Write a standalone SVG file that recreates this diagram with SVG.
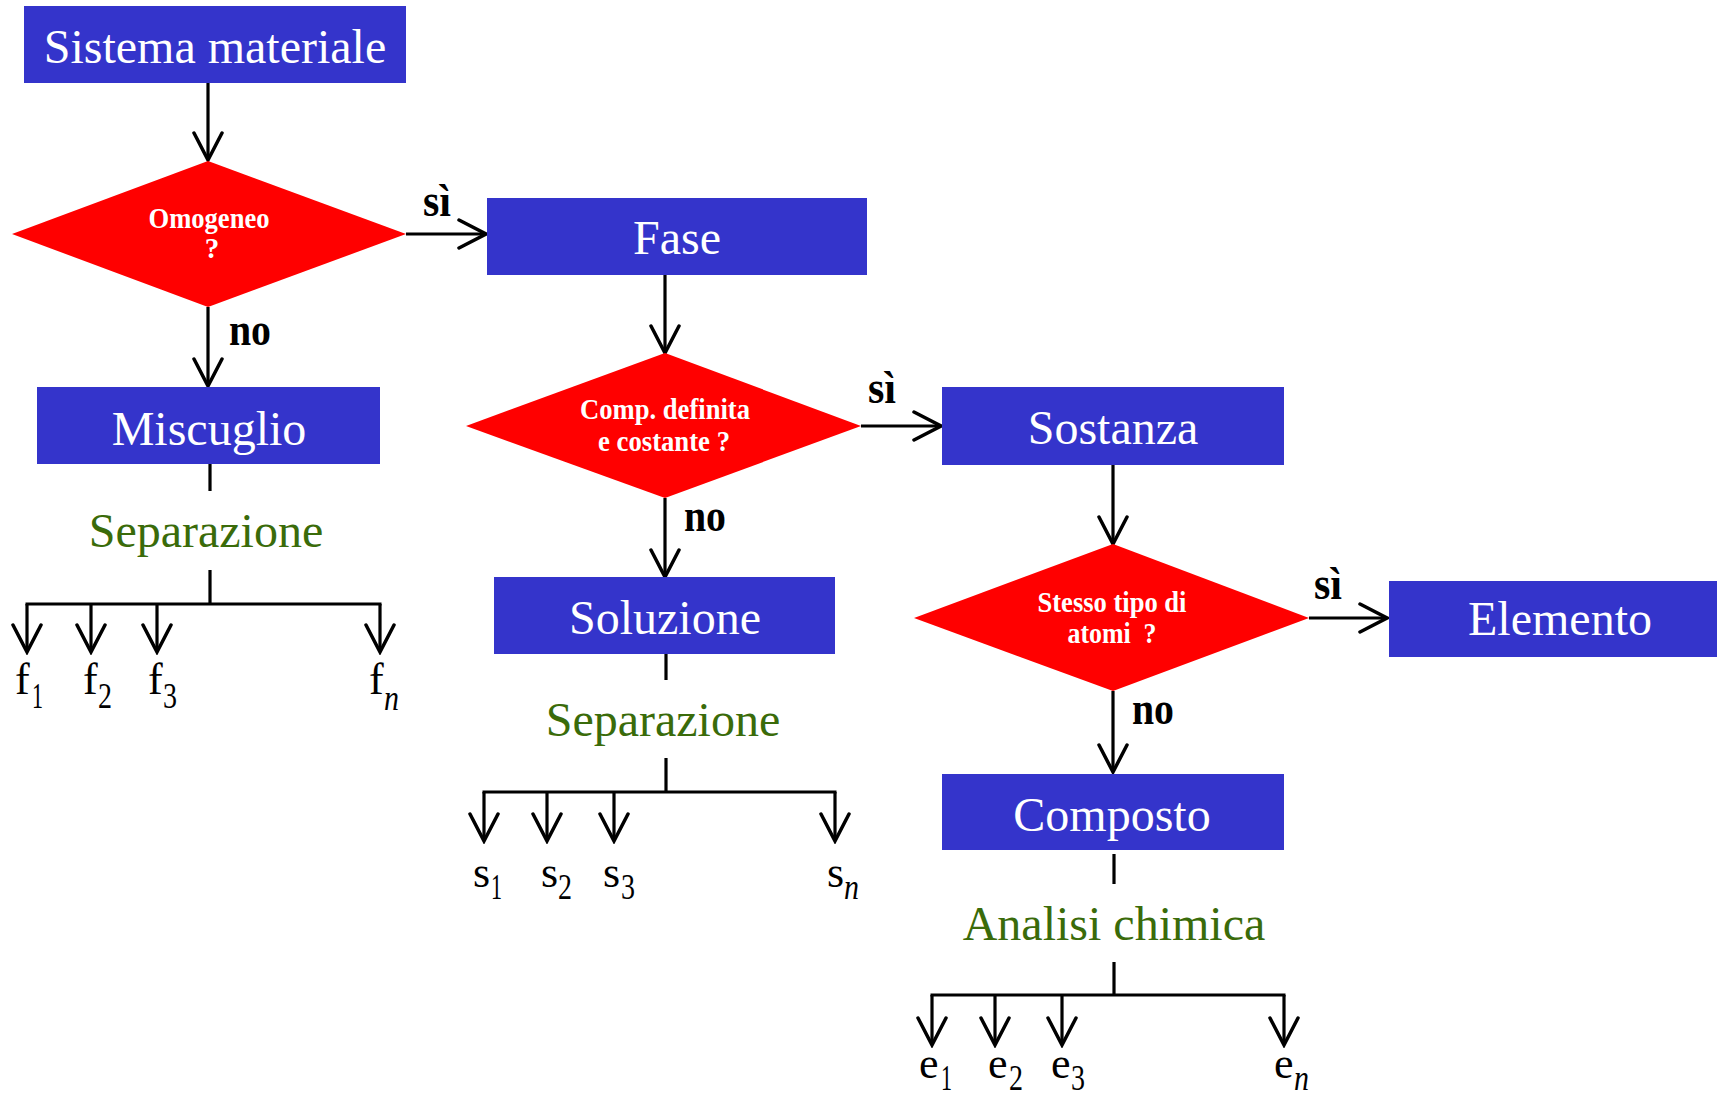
<svg xmlns="http://www.w3.org/2000/svg" width="1717" height="1095" viewBox="0 0 1717 1095">
<style>
.box{fill:#3434CB}
.dia{fill:#FF0000}
.t{fill:#FFFFFF;font-family:"Liberation Serif","Times New Roman",serif;font-size:48px;text-anchor:middle}
.q{fill:#FFFFFF;font-family:"Liberation Serif","Times New Roman",serif;font-size:29px;font-weight:bold;text-anchor:middle}
.lbl{fill:#000000;font-family:"Liberation Serif","Times New Roman",serif;font-size:46px;font-weight:bold}
.g{fill:#3A6B0A;font-family:"Liberation Serif","Times New Roman",serif;font-size:48px;text-anchor:middle}
.v{fill:#000000;font-family:"Liberation Serif","Times New Roman",serif;font-size:44px}
.sb{font-size:36px}
.it{font-style:italic}
.c line{stroke:#000000;stroke-width:3.2;fill:none}
.ar{marker-end:url(#ah)}
</style>
<defs>
<marker id="ah" markerUnits="userSpaceOnUse" viewBox="0 0 32 32" markerWidth="32" markerHeight="32" refX="29" refY="16" orient="auto">
<path d="M2,2 L29,16 L2,30" fill="none" stroke="#000000" stroke-width="3.5" stroke-linecap="round" stroke-linejoin="miter"/>
</marker>
</defs>
<rect width="1717" height="1095" fill="#FFFFFF"/>
<g id="connectors" class="c">
<line class="ar" x1="208" y1="83" x2="208" y2="160"/>
<line class="ar" x1="406" y1="234" x2="486" y2="234"/>
<line class="ar" x1="208" y1="307" x2="208" y2="386"/>
<line x1="210" y1="464" x2="210" y2="491"/>
<line x1="210" y1="570" x2="210" y2="604"/>
<line x1="25.5" y1="604" x2="381.5" y2="604"/>
<line class="ar" x1="27" y1="604" x2="27" y2="652"/>
<line class="ar" x1="91" y1="604" x2="91" y2="652"/>
<line class="ar" x1="157" y1="604" x2="157" y2="652"/>
<line class="ar" x1="380" y1="604" x2="380" y2="652"/>
<line class="ar" x1="665" y1="275" x2="665" y2="353"/>
<line class="ar" x1="861" y1="426" x2="941" y2="426"/>
<line class="ar" x1="665" y1="498" x2="665" y2="577"/>
<line x1="666" y1="654" x2="666" y2="680"/>
<line x1="666" y1="758" x2="666" y2="792"/>
<line x1="482.5" y1="792" x2="836.5" y2="792"/>
<line class="ar" x1="484" y1="792" x2="484" y2="841"/>
<line class="ar" x1="547" y1="792" x2="547" y2="841"/>
<line class="ar" x1="614" y1="792" x2="614" y2="841"/>
<line class="ar" x1="835" y1="792" x2="835" y2="841"/>
<line class="ar" x1="1113" y1="465" x2="1113" y2="544"/>
<line class="ar" x1="1309" y1="618" x2="1387" y2="618"/>
<line class="ar" x1="1113" y1="691" x2="1113" y2="772"/>
<line x1="1114" y1="854" x2="1114" y2="884"/>
<line x1="1114" y1="962" x2="1114" y2="995"/>
<line x1="930.5" y1="995" x2="1285.5" y2="995"/>
<line class="ar" x1="932" y1="995" x2="932" y2="1045"/>
<line class="ar" x1="995" y1="995" x2="995" y2="1045"/>
<line class="ar" x1="1062" y1="995" x2="1062" y2="1045"/>
<line class="ar" x1="1284" y1="995" x2="1284" y2="1045"/>
</g>
<g id="sistema">
<rect class="box" x="24" y="6" width="382" height="77"/>
<text class="t" x="215" y="63">Sistema materiale</text>
</g>
<g id="omogeneo">
<polygon class="dia" points="12,234 208,161 406,234 208,307"/>
<text class="q" x="209" y="228" textLength="121" lengthAdjust="spacingAndGlyphs">Omogeneo</text>
<text class="q" x="212" y="258">?</text>
</g>
<g id="fase">
<rect class="box" x="487" y="198" width="380" height="77"/>
<text class="t" x="677" y="254">Fase</text>
</g>
<g id="miscuglio">
<rect class="box" x="37" y="387" width="343" height="77"/>
<text class="t" x="209" y="445">Miscuglio</text>
</g>
<g id="separazione1">
<text class="g" x="206" y="547">Separazione</text>
</g>
<g id="frazioni">
<text class="v" x="15" y="694">f<tspan class="sb" x="32" y="708" textLength="11" lengthAdjust="spacingAndGlyphs">1</tspan></text>
<text class="v" x="83" y="694">f<tspan class="sb" x="98" y="708" textLength="14" lengthAdjust="spacingAndGlyphs">2</tspan></text>
<text class="v" x="148" y="694">f<tspan class="sb" x="163" y="708" textLength="14" lengthAdjust="spacingAndGlyphs">3</tspan></text>
<text class="v" x="369" y="694">f<tspan class="sb it" x="384" y="710" textLength="15" lengthAdjust="spacingAndGlyphs">n</tspan></text>
</g>
<g id="comp">
<polygon class="dia" points="466,426 665,353 861,426 665,498"/>
<text class="q" x="665" y="419" textLength="170" lengthAdjust="spacingAndGlyphs">Comp. definita</text>
<text class="q" x="664" y="451" textLength="132" lengthAdjust="spacingAndGlyphs">e costante ?</text>
</g>
<g id="sostanza">
<rect class="box" x="942" y="387" width="342" height="78"/>
<text class="t" x="1113" y="444">Sostanza</text>
</g>
<g id="soluzione">
<rect class="box" x="494" y="577" width="341" height="77"/>
<text class="t" x="665" y="634">Soluzione</text>
</g>
<g id="separazione2">
<text class="g" x="663" y="736">Separazione</text>
</g>
<g id="sostanze">
<text class="v" x="473" y="887">s<tspan class="sb" x="491" y="899" textLength="11" lengthAdjust="spacingAndGlyphs">1</tspan></text>
<text class="v" x="541" y="887">s<tspan class="sb" x="558" y="899" textLength="14" lengthAdjust="spacingAndGlyphs">2</tspan></text>
<text class="v" x="603" y="887">s<tspan class="sb" x="621" y="899" textLength="14" lengthAdjust="spacingAndGlyphs">3</tspan></text>
<text class="v" x="827" y="887">s<tspan class="sb it" x="844" y="899" textLength="15" lengthAdjust="spacingAndGlyphs">n</tspan></text>
</g>
<g id="stesso">
<polygon class="dia" points="914,618 1113,544 1309,618 1113,691"/>
<text class="q" x="1112" y="612" textLength="149" lengthAdjust="spacingAndGlyphs">Stesso tipo di</text>
<text class="q" x="1112" y="643" xml:space="preserve" textLength="89" lengthAdjust="spacingAndGlyphs">atomi  ?</text>
</g>
<g id="elemento">
<rect class="box" x="1389" y="581" width="328" height="76"/>
<text class="t" x="1560" y="635">Elemento</text>
</g>
<g id="composto">
<rect class="box" x="942" y="774" width="342" height="76"/>
<text class="t" x="1112" y="831">Composto</text>
</g>
<g id="analisi">
<text class="g" x="1114" y="940">Analisi chimica</text>
</g>
<g id="elementi">
<text class="v" x="919" y="1078">e<tspan class="sb" x="941" y="1090" textLength="11" lengthAdjust="spacingAndGlyphs">1</tspan></text>
<text class="v" x="988" y="1078">e<tspan class="sb" x="1009" y="1090" textLength="14" lengthAdjust="spacingAndGlyphs">2</tspan></text>
<text class="v" x="1051" y="1078">e<tspan class="sb" x="1071" y="1090" textLength="14" lengthAdjust="spacingAndGlyphs">3</tspan></text>
<text class="v" x="1274" y="1078">e<tspan class="sb it" x="1294" y="1090" textLength="15" lengthAdjust="spacingAndGlyphs">n</tspan></text>
</g>
<g id="labels">
<text class="lbl" x="423" y="216" textLength="28" lengthAdjust="spacingAndGlyphs">sì</text>
<text class="lbl" x="229" y="345" textLength="42" lengthAdjust="spacingAndGlyphs">no</text>
<text class="lbl" x="868" y="403" textLength="28" lengthAdjust="spacingAndGlyphs">sì</text>
<text class="lbl" x="684" y="531" textLength="42" lengthAdjust="spacingAndGlyphs">no</text>
<text class="lbl" x="1314" y="599" textLength="28" lengthAdjust="spacingAndGlyphs">sì</text>
<text class="lbl" x="1132" y="724" textLength="42" lengthAdjust="spacingAndGlyphs">no</text>
</g>
</svg>
